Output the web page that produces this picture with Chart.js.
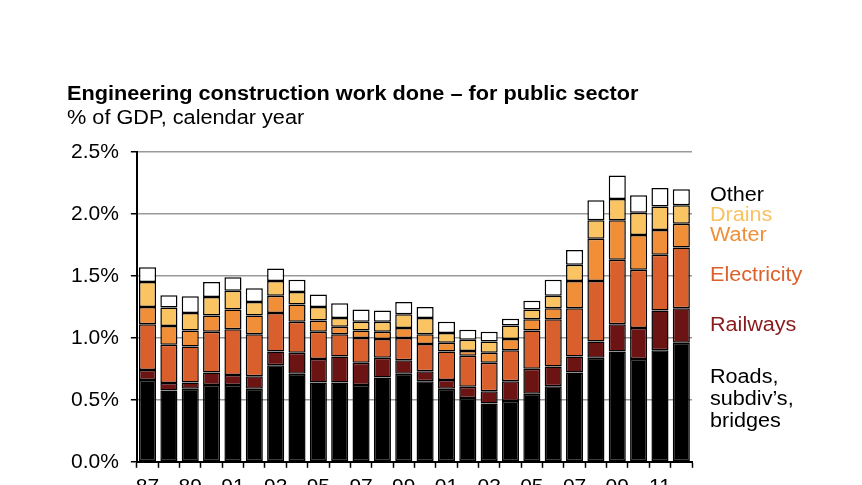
<!DOCTYPE html>
<html>
<head>
<meta charset="utf-8">
<script src="https://cdn.jsdelivr.net/npm/chart.js@4"></script>
<style>
    html, body { margin: 0; padding: 0; background: #fff; overflow: hidden; }
    #wrap { position: relative; width: 862px; height: 510px; }
    #chart { position: absolute; left: 0; top: 0; }
    .txt { position: absolute; font-family: "Liberation Sans", Arial, sans-serif; font-size: 20px; line-height: 20px; white-space: nowrap; transform-origin: 0 0; transform: scaleX(1.085); }
    #title { left: 67px; top: 83px; font-weight: bold; }
    #subtitle { left: 67px; top: 107px; }
    .leg { left: 710px; font-size: 20px; transform: scaleX(1.08); }
</style>
</head>
<body>
<div id="wrap">
    <canvas id="chart" width="862" height="510"></canvas>
    <div class="txt" id="title">Engineering construction work done – for public sector</div>
    <div class="txt" id="subtitle">% of GDP, calendar year</div>
    <div class="txt leg" style="top:184px;color:#000">Other</div>
    <div class="txt leg" style="top:204px;color:#f8c260">Drains</div>
    <div class="txt leg" style="top:224px;color:#ef8f3a">Water</div>
    <div class="txt leg" style="top:264px;color:#dc602b">Electricity</div>
    <div class="txt leg" style="top:314px;color:#8a1b1b">Railways</div>
    <div class="txt leg" style="top:365px;color:#000;line-height:22px">Roads,<br>subdiv’s,<br>bridges</div>
</div>
<script>
// Calendar years 1987 - 2012
const years = ['87', '88', '89', '90', '91', '92', '93', '94', '95', '96', '97', '98', '99',
               '00', '01', '02', '03', '04', '05', '06', '07', '08', '09', '10', '11', '12'];

// % of GDP by category
const roads = [0.66, 0.575, 0.59, 0.62, 0.62, 0.59, 0.78, 0.71, 0.64, 0.64, 0.62, 0.68, 0.71,
               0.65, 0.59, 0.515, 0.47, 0.49, 0.55, 0.61, 0.72, 0.84, 0.89, 0.83, 0.90, 0.96];
const railways = [0.08, 0.06, 0.05, 0.10, 0.08, 0.10, 0.11, 0.17, 0.19, 0.21, 0.18, 0.16, 0.11,
                  0.08, 0.07, 0.09, 0.10, 0.16, 0.20, 0.16, 0.13, 0.13, 0.22, 0.25, 0.32, 0.28];
const electricity = [0.37, 0.31, 0.29, 0.33, 0.37, 0.34, 0.31, 0.25, 0.22, 0.18, 0.20, 0.15, 0.18,
                     0.22, 0.23, 0.25, 0.23, 0.25, 0.31, 0.38, 0.39, 0.49, 0.52, 0.47, 0.45, 0.49];
const water = [0.14, 0.15, 0.13, 0.13, 0.16, 0.15, 0.14, 0.14, 0.09, 0.06, 0.06, 0.06, 0.08,
               0.08, 0.07, 0.04, 0.08, 0.09, 0.09, 0.09, 0.22, 0.34, 0.32, 0.28, 0.20, 0.19];
const drains = [0.20, 0.15, 0.14, 0.15, 0.15, 0.11, 0.12, 0.10, 0.11, 0.07, 0.07, 0.08, 0.11,
                0.13, 0.08, 0.09, 0.09, 0.11, 0.08, 0.10, 0.13, 0.15, 0.17, 0.18, 0.19, 0.15];
const other = [0.12, 0.10, 0.135, 0.12, 0.11, 0.11, 0.10, 0.10, 0.10, 0.12, 0.10, 0.09, 0.10,
               0.09, 0.09, 0.08, 0.08, 0.055, 0.07, 0.13, 0.12, 0.16, 0.19, 0.14, 0.15, 0.13];

const yTicks = [0, 0.5, 1.0, 1.5, 2.0, 2.5];

function seg(label, data, color) {
    return {
        label: label,
        data: data,
        backgroundColor: color,
        borderColor: '#000',
        borderWidth: 1.5,
        borderSkipped: false,
        barPercentage: 0.8,
        categoryPercentage: 1.0
    };
}

const ctx = document.getElementById('chart').getContext('2d');
new Chart(ctx, {
    type: 'bar',
    data: {
        labels: years,
        datasets: [
            seg('Roads, subdiv’s, bridges', roads, '#000000'),
            seg('Railways', railways, '#6c1414'),
            seg('Electricity', electricity, '#d9602c'),
            seg('Water', water, '#f18f38'),
            seg('Drains', drains, '#f9c461'),
            seg('Other', other, '#ffffff')
        ]
    },
    options: {
        responsive: false,
        animation: false,
        layout: { padding: { left: 59, right: 170, top: 152, bottom: 3 } },
        plugins: {
            legend: { display: false },
            tooltip: { enabled: false }
        },
        scales: {
            x: {
                stacked: true,
                grid: {
                    offset: true,
                    drawOnChartArea: false,
                    tickLength: 6,
                    tickColor: '#000',
                    tickWidth: 1.5
                },
                border: { color: '#000', width: 2 },
                ticks: {
                    color: '#000',
                    font: { family: 'Liberation Sans', size: 21 },
                    padding: 7,
                    maxRotation: 0,
                    autoSkip: false,
                    callback: function (v, i) { return i % 2 === 0 ? years[i] : ''; }
                }
            },
            y: {
                stacked: true,
                min: 0,
                max: 2.5,
                afterBuildTicks: function (axis) {
                    axis.ticks = yTicks.map(v => ({ value: v }));
                },
                grid: {
                    color: '#999',
                    lineWidth: 1.5,
                    tickLength: 6,
                    tickColor: '#000',
                    tickWidth: 1.5
                },
                border: { color: '#000', width: 2 },
                ticks: {
                    color: '#000',
                    font: { family: 'Liberation Sans', size: 21 },
                    padding: 12,
                    callback: function (v) { return v.toFixed(1) + '%'; }
                }
            }
        }
    }
});
</script>
</body>
</html>
